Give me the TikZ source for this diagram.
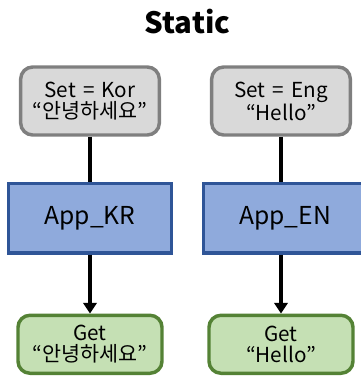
\documentclass[tikz,border=0pt]{standalone}
\usepackage{fontspec}
\setmainfont{Noto Sans CJK KR}
\usepackage{tikz}
\usetikzlibrary{arrows.meta,positioning}
\definecolor{setfill}{HTML}{D9D9D9}
\definecolor{setdraw}{HTML}{7F7F7F}
\definecolor{appfill}{HTML}{8FAADC}
\definecolor{appdraw}{HTML}{2F5597}
\definecolor{getfill}{HTML}{C5E0B4}
\definecolor{getdraw}{HTML}{548235}
\newcommand{\eqsp}{\hspace{0.35em}}
\tikzset{
  box/.style={draw,rounded corners=9pt,align=center,line width=2.6pt,
    font=\fontsize{15.5}{15.5}\selectfont,text=black,inner sep=0pt},
  setb/.style={box,fill=setfill,draw=setdraw,minimum width=104pt,minimum height=51pt},
  appb/.style={draw=appdraw,fill=appfill,line width=2.6pt,minimum width=122pt,
    minimum height=52pt,font=\fontsize{18.5}{20}\selectfont,inner sep=0pt},
  getb/.style={box,fill=getfill,draw=getdraw,minimum width=108pt,minimum height=43.5pt},
  link/.style={line width=3pt,color=black},
  flow/.style={-{Triangle[length=8pt,width=10pt]},line width=3pt,color=black},
  title/.style={font=\fontsize{22}{24}\selectfont\bfseries}
}

\begin{document}
\begin{tikzpicture}[x=0.75pt,y=-0.75pt]
  \useasboundingbox (0,0) rectangle (361,376);
  \node[title,anchor=base] (ttl) at (187.5,33) {Static};
  \node[setb] (setk) at (90,101) {Set\eqsp=\eqsp Kor\\“안녕하세요”};
  \node[setb] (sete) at (281,101) {Set\eqsp=\eqsp Eng\\“Hello”};
  \node[appb,below=33.75pt of setk] (appk) {App\_KR};
  \node[appb,below=33.75pt of sete,xshift=3pt] (appe) {App\_EN};
  \node[getb,below=44.25pt of appk] (getk) {Get\\“안녕하세요”};
  \node[getb,below=44.25pt of sete.south |- appe.south] (gete) {Get\\“Hello”};
  \draw[link] (setk) -- (setk |- appk.north);
  \draw[link] (sete) -- (sete |- appe.north);
  \draw[flow] (appk) -- (getk);
  \draw[flow] (sete |- appe.south) -- (gete);
\end{tikzpicture}
\end{document}
